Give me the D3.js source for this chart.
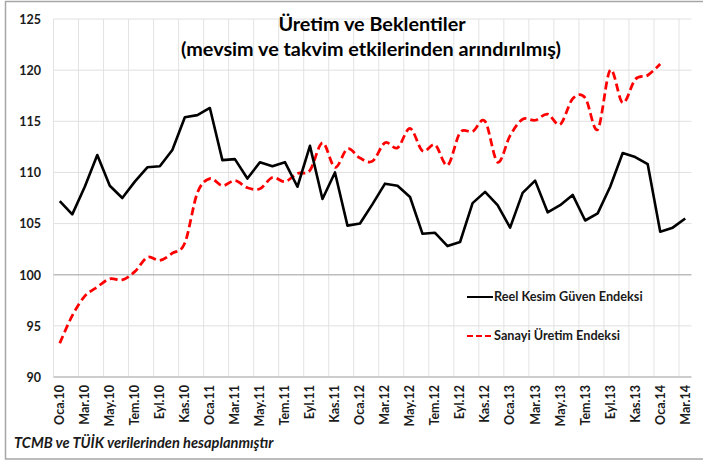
<!DOCTYPE html>
<html>
<head>
<meta charset="utf-8">
<script src="https://cdn.jsdelivr.net/npm/d3@7"></script>
<style>
  body { margin: 0; background: #fff; }
  svg { font-family: Lato, "Open Sans", sans-serif; }
</style>
</head>
<body>
<div id="chart"></div>
<script>
// monthly labels, Oca.10 .. Mar.14
const monthNames = ['Oca', 'Şub', 'Mar', 'Nis', 'May', 'Haz', 'Tem', 'Ağu', 'Eyl', 'Eki', 'Kas', 'Ara'];
const months = [];
for (let y = 10; y <= 14; y++) {
    for (let m = 0; m < 12; m++) {
        if (y === 14 && m > 2) break;
        months.push(monthNames[m] + '.' + y);
    }
}

const reelKesim = [
    107.2, 105.9, 108.6, 111.7, 108.7, 107.5, 109.1, 110.5, 110.6, 112.2, 115.4, 115.6,
    116.3, 111.2, 111.3, 109.4, 111.0, 110.6, 111.0, 108.6, 112.6, 107.4, 110.0, 104.8,
    105.0, 106.9, 108.9, 108.7, 107.6, 104.0, 104.1, 102.8, 103.2, 107.0, 108.1, 106.8,
    104.6, 108.0, 109.2, 106.1, 106.8, 107.8, 105.3, 106.0, 108.6, 111.9, 111.5, 110.8,
    104.2, 104.6, 105.5
];

const sanayiUretim = [
    93.3, 96.0, 97.9, 98.8, 99.6, 99.5, 100.3, 101.7, 101.4, 102.1, 103.1, 108.0,
    109.4, 108.7, 109.2, 108.5, 108.4, 109.5, 109.1, 109.9, 110.2, 112.9, 110.5, 112.3,
    111.4, 111.1, 112.9, 112.4, 114.3, 112.1, 112.7, 110.7, 113.9, 114.0, 115.0, 111.0,
    113.6, 115.2, 115.1, 115.7, 114.7, 117.2, 117.3, 114.2, 120.0, 116.8, 119.1, 119.5,
    120.6, null, null
];

const yTicks = [90, 95, 100, 105, 110, 115, 120, 125];

const seriesNames = ['Reel Kesim Güven Endeksi', 'Sanayi Üretim Endeksi'];

const width = 703, height = 462;
const plot = { left: 53.5, right: 691.5, top: 19, bottom: 377 };

const svg = d3.select('#chart')
    .append('svg')
    .attr('width', width)
    .attr('height', height);

// outer frame
svg.append('rect')
    .attr('x', 5.5)
    .attr('y', 1.5)
    .attr('width', 710)
    .attr('height', 457.5)
    .attr('fill', 'none')
    .attr('stroke', '#a6a6a6')
    .attr('stroke-width', 1.5);

const xScale = d3.scaleBand()
    .domain(months)
    .range([plot.left, plot.right]);

const yScale = d3.scaleLinear()
    .domain([90, 125])
    .range([plot.bottom, plot.top]);

// vertical grid lines, every 2 months at category boundaries
const boundaries = months.filter((d, i) => i % 2 === 0).map(d => xScale(d));
svg.append('g')
    .selectAll('line')
    .data(boundaries)
    .enter().append('line')
    .attr('x1', d => d).attr('x2', d => d)
    .attr('y1', plot.top).attr('y2', plot.bottom)
    .attr('stroke', '#e3e3e3')
    .attr('stroke-width', 1);

// horizontal grid lines
svg.append('g')
    .selectAll('line')
    .data(yTicks)
    .enter().append('line')
    .attr('x1', plot.left).attr('x2', plot.right)
    .attr('y1', d => yScale(d)).attr('y2', d => yScale(d))
    .attr('stroke', d => (d === 100 || d === 90) ? '#bdbdbd' : '#e0e0e0')
    .attr('stroke-width', d => (d === 100 || d === 90) ? 1.5 : 1);

// y axis labels
svg.append('g')
    .call(d3.axisLeft(yScale).tickValues(yTicks).tickSize(0).tickPadding(0))
    .attr('transform', `translate(41, 0)`)
    .call(g => g.select('.domain').remove())
    .selectAll('text')
    .attr('dy', '0.35em')
    .style('font-size', '12.5px')
    .style('font-weight', 'bold')
    .style('font-family', 'Lato, sans-serif')
    .attr('fill', '#1a1a1a');

// x axis labels
const xAxis = d3.axisBottom(xScale)
    .tickValues(months.filter((d, i) => i % 2 === 0))
    .tickSize(0);
svg.append('g')
    .attr('transform', `translate(0, ${plot.bottom})`)
    .call(xAxis)
    .call(g => g.select('.domain').remove())
    .selectAll('text')
    .attr('transform', 'rotate(-90)')
    .attr('x', -8)
    .attr('y', 0)
    .attr('dy', '0.35em')
    .style('text-anchor', 'end')
    .style('font-size', '12.5px')
    .style('font-weight', 'bold')
    .style('font-family', 'Lato, sans-serif')
    .attr('fill', '#1a1a1a');

const cx = d => xScale(d) + xScale.bandwidth() / 2;

const reelData = months.map((m, i) => ({ m, v: reelKesim[i] }));
const sanayiData = months.map((m, i) => ({ m, v: sanayiUretim[i] })).filter(d => d.v != null);

const reelLine = d3.line()
    .x(d => cx(d.m))
    .y(d => yScale(d.v));

const sanayiLine = d3.line()
    .x(d => cx(d.m))
    .y(d => yScale(d.v))
    .curve(d3.curveCatmullRom.alpha(0));

svg.append('path')
    .datum(sanayiData)
    .attr('fill', 'none')
    .attr('stroke', '#ff0000')
    .attr('stroke-width', 2.75)
    .attr('stroke-dasharray', '8,4')
    .attr('d', sanayiLine);

svg.append('path')
    .datum(reelData)
    .attr('fill', 'none')
    .attr('stroke', '#000')
    .attr('stroke-width', 2.6)
    .attr('stroke-linejoin', 'round')
    .attr('d', reelLine);

// legend
const legend = svg.append('g').attr('transform', 'translate(467, 297)');
legend.append('line')
    .attr('x1', 0).attr('x2', 26).attr('y1', 0).attr('y2', 0)
    .attr('stroke', '#000').attr('stroke-width', 2);
legend.append('text')
    .attr('x', 27).attr('y', 0).attr('dy', '0.35em')
    .style('font-size', '12.7px').style('font-weight', 'bold')
    .attr('fill', '#1a1a1a')
    .text(seriesNames[0]);
legend.append('line')
    .attr('x1', 0).attr('x2', 26).attr('y1', 39).attr('y2', 39)
    .attr('stroke', '#ff0000').attr('stroke-width', 2)
    .attr('stroke-dasharray', '6,3');
legend.append('text')
    .attr('x', 27).attr('y', 39).attr('dy', '0.35em')
    .style('font-size', '12.7px').style('font-weight', 'bold')
    .attr('fill', '#1a1a1a')
    .text(seriesNames[1]);

// title
svg.append('text')
    .attr('x', 372).attr('y', 31)
    .attr('text-anchor', 'middle')
    .style('font-size', '19.8px').style('font-weight', 'bold')
    .text('Üretim ve Beklentiler');
svg.append('text')
    .attr('x', 371).attr('y', 56)
    .attr('text-anchor', 'middle')
    .style('font-size', '19.8px').style('font-weight', 'bold')
    .text('(mevsim ve takvim etkilerinden arındırılmış)');

// source note
svg.append('text')
    .attr('x', 14).attr('y', 448)
    .style('font-size', '14.6px').style('font-weight', 'bold').style('font-style', 'italic')
    .attr('fill', '#1a1a1a')
    .text('TCMB ve TÜİK verilerinden hesaplanmıştır');
</script>
</body>
</html>
